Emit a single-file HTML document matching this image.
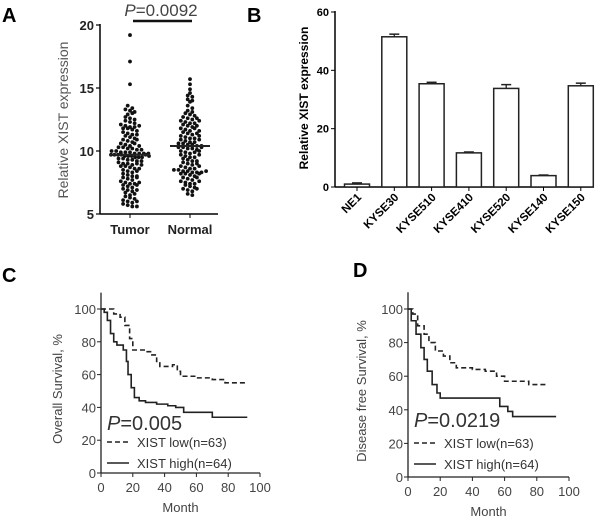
<!DOCTYPE html>
<html><head><meta charset="utf-8"><style>
html,body{margin:0;padding:0;background:#fff;}
svg{display:block;font-family:"Liberation Sans",Arial,sans-serif;}
</style></head><body>
<svg id="fig" width="600" height="525" viewBox="0 0 600 525">
<g id="pa"></g>
<g id="pb"></g>
<g id="pc"></g>
<g id="pd"></g>
</svg>
<script>
// Panel A data
const tumorValues=[19.2,17.1,15.3,13.6,13.4,13.3,13.2,13.1,12.9,12.7,12.6,12.4,12.3,12.2,12.1,12.0,11.9,11.8,11.8,11.7,11.6,11.5,11.4,11.3,11.2,11.1,11.0,10.9,10.8,10.7,10.6,10.5,10.4,10.3,10.3,10.2,10.2,10.1,10.1,10.0,10.0,9.9,9.9,9.9,9.8,9.8,9.8,9.7,9.7,9.7,9.7,9.6,9.6,9.6,9.5,9.5,9.5,9.4,9.4,9.3,9.3,9.2,9.2,9.1,9.0,9.0,8.9,8.8,8.8,8.7,8.6,8.5,8.4,8.3,8.2,8.1,8.0,8.0,7.9,7.8,7.7,7.6,7.5,7.4,7.4,7.3,7.2,7.1,7.0,6.9,6.8,6.7,6.5,6.4,6.3,6.2,6.1,6.0,5.9,5.8,5.7,5.6,5.6,11.9,12.0,10.6,10.4,9.8,9.7,9.6,8.6,8.4,7.5,7.3,6.6,6.0,10.9,11.3,12.5,13.0,9.0,8.9,7.9,6.9];
const normalValues=[15.7,15.3,14.9,14.6,14.4,14.3,14.1,13.9,13.6,13.4,13.2,13.0,12.9,12.8,12.7,12.6,12.5,12.4,12.3,12.2,12.1,12.0,11.9,11.8,11.7,11.6,11.5,11.4,11.3,11.2,11.1,11.0,10.9,10.8,10.7,10.6,10.6,10.5,10.5,10.4,10.4,10.3,10.3,10.2,10.2,10.1,10.0,9.9,9.8,9.7,9.6,9.5,9.4,9.3,9.2,9.1,9.0,8.9,8.8,8.7,8.6,8.5,8.5,8.4,8.4,8.3,8.3,8.2,8.2,8.1,8.0,7.9,7.8,7.7,7.6,7.5,7.4,7.3,7.2,7.1,7.0,6.9,6.8,6.6,6.5,12.2,12.0,11.8,11.4,11.0,10.7,10.3,9.9,9.5,9.0,8.6,8.3,8.2,7.9,7.4,13.1,12.6,11.6,10.9,10.0,9.2,8.8,8.4,7.6,7.0,14.0,12.4,11.2,9.7];
const groupLabels=["Tumor","Normal"];
const groupMeans=[9.7,10.4];
const aTicks=[5,10,15,20];
// Panel B data
const cellLines=["NE1","KYSE30","KYSE510","KYSE410","KYSE520","KYSE140","KYSE150"];
const cellValues=[1.0,51.5,35.4,11.7,33.8,3.9,34.7];
const cellErrors=[0.4,0.9,0.5,0.3,1.3,0.2,0.9];
const bTicks=[0,20,40,60];
// Panel C data (month, survival %)
const cLowT=[0,8,12,15,18,20,28,32,35,37,43,45,48,50,60,70,78,92];
const cLowS=[100,97,95,90,82,75,74,72,68,65,65,66,62,59,58,57,55,55];
const cHighT=[0,2,4,6,8,10,14,16,17,19,21,24,28,35,42,47,52,68,70,92];
const cHighS=[100,98,93,85,80,78,75,68,60,52,46,44,43,42,41,40,37,37,34,34];
// Panel D data
const dLowT=[0,3,6,10,13,17,22,26,30,40,48,55,60,70,75,86];
const dLowS=[100,97,90,85,80,75,72,68,65,64,63,60,57,57,55,54];
const dHighT=[0,2,5,8,10,12,15,18,20,55,57,62,65,92];
const dHighS=[100,93,85,77,70,63,55,50,47,47,42,39,36,36];
const kmTicks=[0,20,40,60,80,100];

const NS="http://www.w3.org/2000/svg";
function mk(parent,tag,attrs,name,text){
  const e=document.createElementNS(NS,tag);
  for(const k in attrs)e.setAttribute(k,attrs[k]);
  
  
  if(text!==undefined)e.textContent=text;
  parent.appendChild(e);return e;
}
const fig=document.getElementById('fig');
[["A",2,22],["B",247,22],["C",2,282],["D",353,277]].forEach(l=>{
  mk(fig,'text',{x:l[1],y:l[2],'font-size':20,'font-weight':'bold'},'panel-letter-'+l[0].toLowerCase(),l[0]);
});

// ---- Panel A ----
(function(){
  const g=document.getElementById('pa');
  const y=v=>214-(v-5)*(189/15);
  const gx=[130,190];
  mk(g,'line',{x1:100,y1:24,x2:100,y2:214,stroke:'#000','stroke-width':1.5},'y-axis');
  mk(g,'line',{x1:100,y1:214,x2:218,y2:214,stroke:'#000','stroke-width':1.5},'x-axis');
  aTicks.forEach(t=>{
    mk(g,'line',{x1:96,y1:y(t),x2:100,y2:y(t),stroke:'#000','stroke-width':1.2},'y-tick');
    mk(g,'text',{x:94,y:y(t)+5,'font-size':13,'font-weight':'bold','text-anchor':'end',fill:'#222'},'y-tick-label',t);
  });
  mk(g,'text',{x:0,y:0,'font-size':14,'text-anchor':'middle',fill:'#555',transform:'translate(68,120) rotate(-90)'},'y-axis-title','Relative XIST expression');
  [tumorValues,normalValues].forEach((vals,gi)=>{
    mk(g,'line',{x1:gx[gi],y1:214,x2:gx[gi],y2:218,stroke:'#000'},'x-tick');
    mk(g,'text',{x:gx[gi],y:234,'font-size':13,'font-weight':'bold','text-anchor':'middle',fill:'#222'},'x-tick-label',groupLabels[gi]);
    const bins={};
    vals.forEach(v=>{const b=Math.round(v/0.3);(bins[b]=bins[b]||[]).push(v);});
    Object.keys(bins).forEach(b=>{
      const arr=bins[b];const n=arr.length;
      const sp=n>1?Math.min(4.6,38/(n-1)):0;
      arr.forEach((v,i)=>{
        const off=(i-(n-1)/2)*sp;
        mk(g,'circle',{cx:gx[gi]+off,cy:y(v),r:1.9,fill:'#111'},'data-point');
      });
    });
    mk(g,'line',{x1:gx[gi]-20,y1:y(groupMeans[gi]),x2:gx[gi]+20,y2:y(groupMeans[gi]),stroke:'#222','stroke-width':2},'mean-line');
  });
  const t=mk(g,'text',{x:161,y:16,'font-size':17,'text-anchor':'middle',fill:'#444'},'p-value','');
  const ti=document.createElementNS(NS,'tspan');ti.setAttribute('font-style','italic');ti.textContent='P';t.appendChild(ti);
  t.appendChild(document.createTextNode('=0.0092'));
  mk(g,'line',{x1:133,y1:21,x2:192,y2:21,stroke:'#111','stroke-width':2.5},'significance-bar');
})();

// ---- Panel B ----
(function(){
  const g=document.getElementById('pb');
  const y=v=>187-v*(175/60);
  const x0=357,dx=37.3,bw=25;
  mk(g,'line',{x1:335,y1:11,x2:335,y2:187,stroke:'#000','stroke-width':1.5},'y-axis');
  mk(g,'line',{x1:335,y1:187,x2:594,y2:187,stroke:'#000','stroke-width':1.5},'x-axis');
  bTicks.forEach(t=>{
    mk(g,'line',{x1:331,y1:y(t),x2:335,y2:y(t),stroke:'#000'},'y-tick');
    mk(g,'text',{x:329,y:y(t)+4,'font-size':11,'font-weight':'bold','text-anchor':'end'},'y-tick-label',t);
  });
  mk(g,'text',{x:0,y:0,'font-size':12,'font-weight':'bold','text-anchor':'middle',transform:'translate(308,98) rotate(-90)'},'y-axis-title','Relative XIST expression');
  cellLines.forEach((c,i)=>{
    const cx=x0+i*dx,v=cellValues[i],e=cellErrors[i];
    mk(g,'rect',{x:cx-bw/2,y:y(v),width:bw,height:187-y(v),fill:'#fff',stroke:'#222','stroke-width':1.5},'bar-'+c.toLowerCase());
    mk(g,'line',{x1:cx,y1:y(v),x2:cx,y2:y(v+e),stroke:'#222','stroke-width':1.3},'error-bar');
    mk(g,'line',{x1:cx-5,y1:y(v+e),x2:cx+5,y2:y(v+e),stroke:'#222','stroke-width':1.5},'error-cap');
    mk(g,'line',{x1:cx,y1:187,x2:cx,y2:191,stroke:'#000'},'x-tick');
    mk(g,'text',{x:0,y:0,'font-size':11.5,'font-weight':'bold','text-anchor':'end',transform:`translate(${cx+5},198) rotate(-45)`},'x-tick-label',c);
  });
})();

// ---- KM panels ----
function km(id,ax,y0,y100,x100,title,titleX,pText,pX,pY,lowT,lowS,highT,highS,legY){
  const g=document.getElementById(id);
  const X=m=>ax+m*(x100-ax)/100, Y=s=>y0-s*(y0-y100)/100;
  mk(g,'line',{x1:ax,y1:Y(110),x2:ax,y2:y0,stroke:'#222','stroke-width':1.3},'y-axis');
  mk(g,'line',{x1:ax,y1:y0,x2:x100,y2:y0,stroke:'#222','stroke-width':1.3},'x-axis');
  kmTicks.forEach(t=>{
    mk(g,'line',{x1:ax-4,y1:Y(t),x2:ax,y2:Y(t),stroke:'#222'},'y-tick');
    mk(g,'text',{x:ax-5,y:Y(t)+5,'font-size':13,'text-anchor':'end',fill:'#444'},'y-tick-label',t);
    mk(g,'line',{x1:X(t),y1:y0,x2:X(t),y2:y0+4,stroke:'#222'},'x-tick');
    mk(g,'text',{x:X(t),y:y0+19,'font-size':13,'text-anchor':'middle',fill:'#444'},'x-tick-label',t);
  });
  mk(g,'text',{x:(ax+x100)/2,y:y0+39,'font-size':13,'text-anchor':'middle',fill:'#444'},'x-axis-title','Month');
  mk(g,'text',{x:0,y:0,'font-size':13,'text-anchor':'middle',fill:'#444',transform:`translate(${titleX},${(y0+y100)/2-2}) rotate(-90)`},'y-axis-title',title);
  function step(T,S){let d=`M${X(T[0])},${Y(S[0])}`;for(let i=1;i<T.length;i++){d+=` H${X(T[i])} V${Y(S[i])}`;}return d;}
  mk(g,'path',{d:step(lowT,lowS),fill:'none',stroke:'#222','stroke-width':1.6,'stroke-dasharray':'5,3'},'xist-low-curve');
  mk(g,'path',{d:step(highT,highS),fill:'none',stroke:'#222','stroke-width':1.6},'xist-high-curve');
  const t=mk(g,'text',{x:pX,y:pY,'font-size':20,fill:'#333'},'p-value','');
  const ti=document.createElementNS(NS,'tspan');ti.setAttribute('font-style','italic');ti.textContent='P';t.appendChild(ti);
  t.appendChild(document.createTextNode(pText));
  mk(g,'line',{x1:pX,y1:legY,x2:pX+22,y2:legY,stroke:'#222','stroke-width':1.6,'stroke-dasharray':'5,3'},'legend-low-line');
  mk(g,'text',{x:pX+30,y:legY+5,'font-size':13,fill:'#333'},'legend-low-label','XIST low(n=63)');
  mk(g,'line',{x1:pX,y1:legY+21,x2:pX+22,y2:legY+21,stroke:'#222','stroke-width':1.6},'legend-high-line');
  mk(g,'text',{x:pX+30,y:legY+26,'font-size':13,fill:'#333'},'legend-high-label','XIST high(n=64)');
}
km('pc',101,473,309,260,'Overall Survival, %',62,'=0.005',107,430,cLowT,cLowS,cHighT,cHighS,442);
km('pd',408,477,309,569,'Disease free Survival, %',366,'=0.0219',414,427,dLowT,dLowS,dHighT,dHighS,443);
</script>
</body></html>
